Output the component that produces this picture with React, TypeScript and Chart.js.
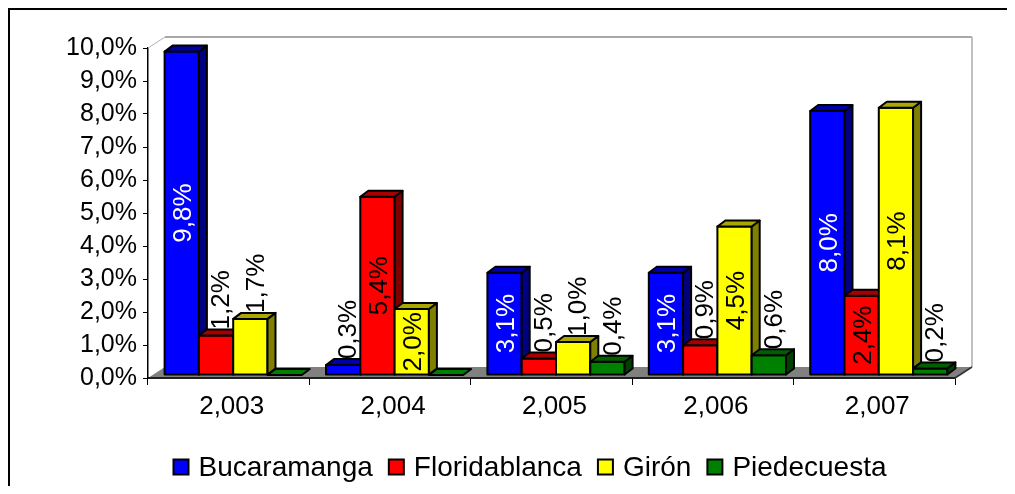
import React, { useEffect, useRef } from 'react';
import { Chart, registerables } from 'chart.js';

Chart.register(...registerables);

const FONT = '"Liberation Sans", Arial, Helvetica, sans-serif';

// ---------- data ----------
const years = ['2,003', '2,004', '2,005', '2,006', '2,007'];
const seriesNames = ['Bucaramanga', 'Floridablanca', 'Girón', 'Piedecuesta'];
const bucaramanga = [9.8, 0.3, 3.1, 3.1, 8.0];
const floridablanca = [1.2, 5.4, 0.5, 0.9, 2.4];
const giron = [1.7, 2.0, 1.0, 4.5, 8.1];
const piedecuesta = [0, 0, 0.4, 0.6, 0.2];
const yMin = 0;
const yMax = 10;
const yStep = 1;

// ---------- styles ----------
const frontColors = ['#0000FF', '#FF0000', '#FFFF00', '#008000'];
const topColors = ['#0000A8', '#A80000', '#A8A800', '#006000'];
const sideColors = ['#000080', '#800000', '#808000', '#004000'];
const insideLabelColors = ['#FFFFFF', '#000000', '#000000', '#000000'];

const W = 1005;
const H = 476;
const FLOOR_DX = 17;
const FLOOR_DY = 11;
const BAR_DX = 8;
const BAR_DY = 6;
const SHIFT_X = 4.5;
const SHIFT_Y = -3;
const LEGEND_CX = 520;
const LEGEND_CY = 457;

const fmt = (v: number) => v.toFixed(1).replace('.', ',') + '%';

const threeDPlugin = {
  id: 'threeD',
  beforeDatasetsDraw(chart: any) {
    const { ctx, chartArea: a } = chart;
    ctx.save();
    // floor
    ctx.fillStyle = '#808080';
    ctx.beginPath();
    ctx.moveTo(a.left, a.bottom);
    ctx.lineTo(a.right, a.bottom);
    ctx.lineTo(a.right + FLOOR_DX, a.bottom - FLOOR_DY);
    ctx.lineTo(a.left + FLOOR_DX, a.bottom - FLOOR_DY);
    ctx.closePath();
    ctx.fill();
    // back walls
    ctx.strokeStyle = '#b0b0b0';
    ctx.lineWidth = 1;
    ctx.beginPath();
    ctx.moveTo(a.left, a.top);
    ctx.lineTo(a.left + FLOOR_DX, a.top - FLOOR_DY);
    ctx.stroke();
    ctx.lineWidth = 2;
    ctx.strokeStyle = '#a8a8a8';
    ctx.beginPath();
    ctx.moveTo(a.left + FLOOR_DX, a.top - FLOOR_DY);
    ctx.lineTo(a.right + FLOOR_DX, a.top - FLOOR_DY);
    ctx.stroke();
    ctx.strokeStyle = '#c0c0c0';
    ctx.beginPath();
    ctx.moveTo(a.right + FLOOR_DX, a.top - FLOOR_DY);
    ctx.lineTo(a.right + FLOOR_DX, a.bottom - FLOOR_DY);
    ctx.stroke();
    // floor right edge
    ctx.strokeStyle = '#303030';
    ctx.lineWidth = 1.5;
    ctx.beginPath();
    ctx.moveTo(a.right, a.bottom);
    ctx.lineTo(a.right + FLOOR_DX, a.bottom - FLOOR_DY);
    ctx.stroke();
    // front edge
    ctx.strokeStyle = '#000';
    ctx.lineWidth = 1.5;
    ctx.beginPath();
    ctx.moveTo(a.left, a.bottom);
    ctx.lineTo(a.right, a.bottom);
    ctx.stroke();

    // bars
    const nCat = chart.data.labels.length;
    const nDs = chart.data.datasets.length;
    const metas = [] as any[];
    for (let d = 0; d < nDs; d++) metas.push(chart.getDatasetMeta(d));
    const boxes: any[] = [];
    ctx.lineJoin = 'round';
    for (let i = 0; i < nCat; i++) {
      for (let d = 0; d < nDs; d++) {
        const el = metas[d].data[i];
        if (!el) continue;
        const p = el.getProps(['x', 'y', 'base', 'width'], true);
        const l = p.x - p.width / 2 + SHIFT_X;
        const r = p.x + p.width / 2 + SHIFT_X;
        const t = p.y + SHIFT_Y;
        const b = p.base + SHIFT_Y;
        ctx.lineWidth = 2;
        ctx.strokeStyle = '#000';
        if (b - t > 0.5) {
          ctx.fillStyle = frontColors[d];
          ctx.fillRect(l, t, r - l, b - t);
          ctx.strokeRect(l, t, r - l, b - t);
          ctx.fillStyle = sideColors[d];
          ctx.beginPath();
          ctx.moveTo(r, t);
          ctx.lineTo(r + BAR_DX, t - BAR_DY);
          ctx.lineTo(r + BAR_DX, b - BAR_DY);
          ctx.lineTo(r, b);
          ctx.closePath();
          ctx.fill();
          ctx.stroke();
        }
        ctx.fillStyle = b - t > 0.5 ? topColors[d] : frontColors[d];
        ctx.beginPath();
        ctx.moveTo(l, t);
        ctx.lineTo(r, t);
        ctx.lineTo(r + BAR_DX, t - BAR_DY);
        ctx.lineTo(l + BAR_DX, t - BAR_DY);
        ctx.closePath();
        ctx.fill();
        ctx.stroke();
        boxes.push({ d, i, l, r, t, b, v: chart.data.datasets[d].data[i] });
      }
    }

    // data labels
    ctx.font = `26px ${FONT}`;
    for (const bx of boxes) {
      if (!bx.v) continue;
      const txt = fmt(bx.v);
      const tw = ctx.measureText(txt).width;
      const h = bx.b - bx.t;
      ctx.save();
      if (h >= tw + 6) {
        ctx.translate((bx.l + bx.r) / 2 + 2, (bx.t + bx.b) / 2);
        ctx.rotate(-Math.PI / 2);
        ctx.textAlign = 'center';
        ctx.textBaseline = 'middle';
        ctx.fillStyle = insideLabelColors[bx.d];
      } else {
        ctx.translate((bx.l + bx.r) / 2 + 6, bx.t - 6);
        ctx.rotate(-Math.PI / 2);
        ctx.textAlign = 'left';
        ctx.textBaseline = 'middle';
        ctx.fillStyle = '#000';
      }
      ctx.fillText(txt, 0, 0);
      ctx.restore();
    }
    ctx.restore();
    return false;
  },
  afterDraw(chart: any) {
    const { ctx } = chart;
    ctx.save();
    ctx.font = `28px ${FONT}`;
    const box = 15;
    const gapBox = 10;
    const gapItem = 16;
    const items = chart.data.datasets.map((ds: any) => ({
      text: ds.label,
      color: ds.backgroundColor,
      w: ctx.measureText(ds.label).width,
    }));
    let total = 0;
    items.forEach((it: any, k: number) => {
      total += box + gapBox + it.w + (k > 0 ? gapItem : 0);
    });
    let x = LEGEND_CX - total / 2;
    ctx.textBaseline = 'middle';
    ctx.textAlign = 'left';
    items.forEach((it: any) => {
      ctx.fillStyle = it.color;
      ctx.fillRect(x, LEGEND_CY - box / 2, box, box);
      ctx.strokeStyle = '#000';
      ctx.lineWidth = 2;
      ctx.strokeRect(x, LEGEND_CY - box / 2, box, box);
      x += box + gapBox;
      ctx.fillStyle = '#000';
      ctx.fillText(it.text, x, LEGEND_CY + 1);
      x += it.w + gapItem;
    });
    ctx.restore();
  },
};

export default function App() {
  const ref = useRef<HTMLCanvasElement>(null);
  useEffect(() => {
    if (!ref.current) return;
    const seriesValues = [bucaramanga, floridablanca, giron, piedecuesta];
    const chart = new Chart(ref.current, {
      type: 'bar',
      data: {
        labels: years,
        datasets: seriesNames.map((name, d) => ({
          label: name,
          data: seriesValues[d],
          backgroundColor: frontColors[d],
          borderColor: '#000',
          borderWidth: 2,
          categoryPercentage: 0.85,
          barPercentage: 1.0,
        })),
      },
      options: {
        responsive: false,
        maintainAspectRatio: false,
        animation: false,
        events: [],
        layout: { padding: { top: 38, right: 60, left: 0, bottom: 0 } },
        plugins: {
          legend: { display: false },
          tooltip: { enabled: false },
        },
        scales: {
          x: {
            type: 'category',
            offset: true,
            grid: {
              offset: true,
              drawOnChartArea: false,
              drawTicks: true,
              tickLength: 7,
              color: '#000',
              lineWidth: 1,
            },
            border: { display: true, color: '#000', width: 1.5 },
            ticks: {
              font: { family: FONT, size: 26 },
              color: '#000',
              padding: 6,
              labelOffset: 3,
              maxRotation: 0,
              autoSkip: false,
            },
            afterFit: (s: any) => {
              s.height = H - 368;
              s.paddingLeft = 0;
              s.paddingRight = 0;
            },
          },
          y: {
            min: yMin,
            max: yMax,
            ticks: {
              stepSize: yStep,
              callback: (v: any) => fmt(Number(v)),
              font: { family: FONT, size: 25 },
              color: '#000',
              padding: 6,
            },
            grid: {
              drawOnChartArea: false,
              drawTicks: true,
              tickLength: 5,
              color: '#000',
            },
            border: { display: true, color: '#000', width: 1.5 },
            afterFit: (s: any) => {
              s.width = 138;
              s.paddingTop = 0;
              s.paddingBottom = 0;
            },
          },
        },
      } as any,
      plugins: [threeDPlugin as any],
    });
    return () => chart.destroy();
  }, []);

  return (
    <div
      style={{
        width: W,
        height: H,
        borderTop: '2px solid #000',
        borderLeft: '2px solid #000',
        background: '#fff',
      }}
    >
      <canvas ref={ref} width={W} height={H} style={{ display: 'block', width: W, height: H }} />
    </div>
  );
}
